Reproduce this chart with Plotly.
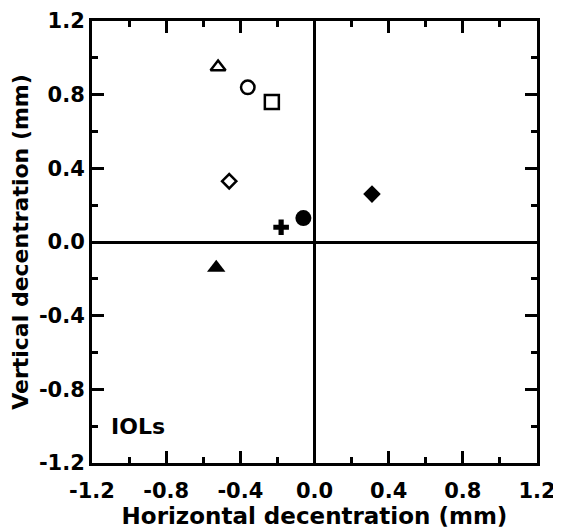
import plotly.graph_objects as go

# Data: horizontal / vertical decentration (mm) of each IOL
horizontal_mm = [-0.52, -0.36, -0.23, -0.46, -0.18, -0.06, 0.31, -0.53]
vertical_mm = [0.95, 0.84, 0.76, 0.33, 0.08, 0.13, 0.26, -0.14]

# Axis ticks
tick_values = [-1.2, -0.8, -0.4, 0.0, 0.4, 0.8, 1.2]
tick_labels = ["-1.2", "-0.8", "-0.4", "0.0", "0.4", "0.8", "1.2"]

x_title = "Horizontal decentration (mm)"
y_title = "Vertical decentration (mm)"
panel_label = "IOLs"

# Marker styles (one per point)
symbols = ["triangle-up-open", "circle-open", "square-open", "diamond-open",
           "cross", "circle", "diamond", "triangle-up"]
sizes = [13, 13.5, 14, 11, 13, 16, 13.5, 16]
line_widths = [2.5, 2.5, 2.5, 2.5, 0, 0, 0, 0]

FONT = "DejaVu Sans"

fig = go.Figure()
fig.add_trace(go.Scatter(
    x=horizontal_mm, y=vertical_mm, mode="markers",
    marker=dict(symbol=symbols, size=sizes, color="black", opacity=1,
                line=dict(color="black", width=line_widths)),
    showlegend=False, hoverinfo="x+y",
))

axis_common = dict(
    range=[-1.2, 1.2],
    tickmode="array", tickvals=tick_values, ticktext=tick_labels,
    ticks="inside", ticklen=12, tickwidth=2.5, tickcolor="black",
    minor=dict(tickmode="linear", tick0=0, dtick=0.2, ticks="inside",
               ticklen=6, tickwidth=2.5, tickcolor="black", showgrid=False),
    showline=True, linewidth=3, linecolor="black", mirror="ticks",
    showgrid=False,
    zeroline=True, zerolinecolor="black", zerolinewidth=2.5,
    tickfont=dict(family=FONT, size=21, color="black", weight="bold"),
    fixedrange=True,
)

fig.update_xaxes(**axis_common,
                 ticklabelstandoff=7,
                 title=dict(text=x_title, standoff=6,
                            font=dict(family=FONT, size=23, color="black", weight="bold")))
fig.update_yaxes(**axis_common,
                 ticklabelstandoff=0,
                 title=dict(text=y_title, standoff=19,
                            font=dict(family=FONT, size=22, color="black", weight="bold")))

fig.add_annotation(x=-0.95, y=-1.0, xref="x", yref="y", text=panel_label,
                   showarrow=False,
                   font=dict(family=FONT, size=22, color="black", weight="bold"))

# The page body adds an 8px margin, so the figure is sized/margined to compensate
fig.update_layout(
    width=553, height=523,
    margin=dict(l=84, r=24, t=13, b=68, autoexpand=False),
    paper_bgcolor="white", plot_bgcolor="white",
    font=dict(family=FONT, color="black"),
)

fig.write_html("out.html")
